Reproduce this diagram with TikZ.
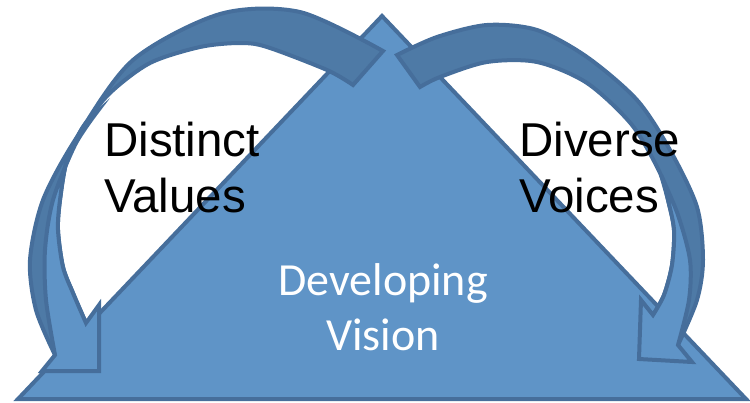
\documentclass[tikz,border=0pt]{standalone}
\usepackage{fontspec}
\setmainfont{Liberation Sans}
\newfontfamily\calibri{Carlito}
\definecolor{trifill}{RGB}{95,148,199}
\definecolor{triline}{RGB}{70,110,155}
\definecolor{backband}{RGB}{78,122,166}

\begin{document}
\begin{tikzpicture}[x=1pt, y=-1pt,
    face/.style={fill=trifill, draw=triline, line width=4pt},
    backpart/.style={fill=backband, draw=triline, line width=4pt},
    blacktext/.style={align=left, inner sep=0pt, font=\fontsize{47.5}{56}\selectfont},
    whitetext/.style={align=center, inner sep=0pt, text=white, font=\calibri\fontsize{46}{55}\selectfont}]
    \useasboundingbox (0,0) rectangle (750,402);

    % triangle
    \draw[face] (18,399) -- (382,16) -- (746,399) -- cycle;

    % left arrow
    \filldraw[backpart] plot[smooth] coordinates {(383,51) (300,12) (220,14) (133,60) (77,137) (43,200) (30,260) (36,310) (55,355)}
        -- plot[smooth] coordinates {(86,323) (73,293) (63,267) (58,230) (60,200) (67,160) (83,127) (110,93) (150,63) (200,47) (240,43) (267,47) (327,70) (353,85)} -- cycle;
    \filldraw[face] plot[smooth] coordinates {(97,112) (75,145) (53,200) (45,250) (46,300) (55,355)}
        -- (42,371) -- (99,371) -- (99,305)
        -- plot[smooth] coordinates {(86,323) (73,293) (63,267) (58,230) (60,200) (67,160) (83,127) (97,112)} -- cycle;

    % right arrow
    \filldraw[backpart] plot[smooth] coordinates {(397,55) (437,37) (487,25) (537,30) (587,57) (637,100) (670,150) (697,207) (703,260) (697,300) (678,345)}
        -- plot[smooth] coordinates {(653,315) (664,295) (672,265) (674,230) (668,200) (660,173) (632,125) (587,83) (537,62) (487,62) (440,77) (420,87)} -- cycle;
    \filldraw[face] plot[smooth] coordinates {(661,175) (678,215) (690,260) (689,300) (678,345)}
        -- (692,362) -- (639,359) -- (641,300)
        -- plot[smooth] coordinates {(653,315) (664,295) (672,265) (674,230) (668,200) (661,175)} -- cycle;

    % labels
    \node[blacktext, anchor=base west] (values) at (104,212) {Distinct\\Values};
    \node[blacktext, anchor=base west] (voices) at (519,212) {Diverse\\Voices};
    \node[whitetext, anchor=base] (vision) at (383,350) {Developing\\Vision};
\end{tikzpicture}
\end{document}
